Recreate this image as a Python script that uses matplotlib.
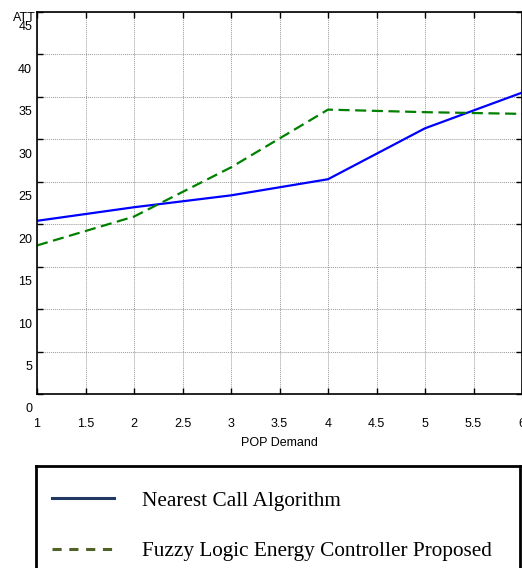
import matplotlib
matplotlib.use("Agg")
import matplotlib.pyplot as plt
from matplotlib.lines import Line2D
from matplotlib.transforms import ScaledTranslation

pop_demand = [1, 2, 3, 4, 5, 6]
nearest_call = [20.4, 22.0, 23.4, 25.3, 31.3, 35.5]
fuzzy_logic = [17.5, 20.9, 26.7, 33.5, 33.2, 33.0]
series_labels = ["Nearest Call Algorithm", "Fuzzy Logic Energy Controller Proposed"]
x_ticks = [1, 1.5, 2, 2.5, 3, 3.5, 4, 4.5, 5, 5.5, 6]
y_ticks = [0, 5, 10, 15, 20, 25, 30, 35, 40, 45]

W, H = 522, 568
fig = plt.figure(figsize=(W / 100, H / 100), dpi=100)
plt.rcParams['font.family'] = ['Liberation Sans', 'DejaVu Sans']

ax = fig.add_axes([37 / W, (H - 394) / H, 485 / W, 382 / H])
ax.plot(pop_demand, nearest_call, color='#0000ff', lw=1.6)
ax.plot(pop_demand, fuzzy_logic, color='#008000', lw=1.6, linestyle=(0, (5, 2.5)))
ax.set_xlim(1, 6)
ax.set_ylim(0, 45)
ax.set_xticks(x_ticks)
ax.set_xticklabels([f"{v:g}" for v in x_ticks])
ax.set_yticks(y_ticks)
ax.grid(True, linestyle=(0, (1, 1)), color='#999999', lw=0.7)
ax.tick_params(direction='in', length=4, width=1, labelsize=9, top=True, right=True,
               colors='black')
ax.tick_params(axis='x', pad=17)
ax.tick_params(axis='y', pad=3.5)
for s in ax.spines.values():
    s.set_linewidth(1.2)
off = ScaledTranslation(0, -14 / 100, fig.dpi_scale_trans)
for lab in ax.get_yticklabels():
    lab.set_transform(lab.get_transform() + off)
ax.set_xlabel("POP Demand", fontsize=9, labelpad=5)
ax.set_ylabel("ATT", rotation=0, ha='left', va='center', fontsize=9)
ax.yaxis.set_label_coords(-24 / 485, (394 - 18) / 382)

lax = fig.add_axes([36 / W, -20 / H, 484 / W, (568 - 466 + 20) / H])
lax.set_xticks([])
lax.set_yticks([])
for s in lax.spines.values():
    s.set_linewidth(2)
handles = [Line2D([], [], color='#1f3864', lw=2.2),
           Line2D([], [], color='#4f6228', lw=2.2, linestyle=(0, (3, 2.5)))]
lax.legend(handles, series_labels, loc='upper left', frameon=False,
           prop={'family': 'Liberation Serif', 'size': 15.3},
           handlelength=2.92, handletextpad=1.32, labelspacing=1.44,
           borderaxespad=0, borderpad=0.75, bbox_to_anchor=(0, 0.928))

fig.savefig("out.png", dpi=100)
